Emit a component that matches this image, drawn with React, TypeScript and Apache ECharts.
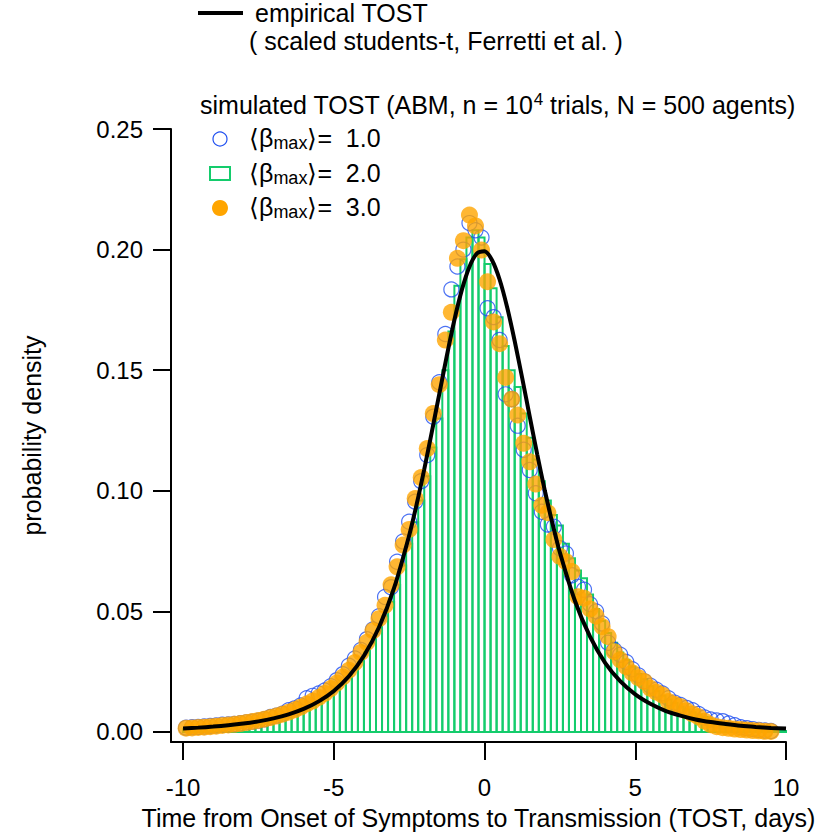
import React, { useEffect, useRef } from "react";
import * as echarts from "echarts";

// ---- data ----
// histogram bins: width 0.2 days, centres -9.9 ... 9.9
const BIN_WIDTH = 0.2;
const binCenters: number[] = Array.from({ length: 100 }, (_, i) => Math.round((-9.9 + 0.2 * i) * 10) / 10);

// <beta_max> = 1.0 (blue open circles)
const beta1: (number | null)[] = [
  0.0018, 0.0020, 0.0021, 0.0023, 0.0025, 0.0027, 0.0030, 0.0031, 0.0033, 0.0036,
  0.0040, 0.0043, 0.0047, 0.0053, 0.0062, 0.0068, 0.0076, 0.0090, 0.0098, 0.0110,
  0.0140, 0.0150, 0.0160, 0.0172, 0.0190, 0.0215, 0.0240, 0.0275, 0.0305, 0.0340,
  0.0385, 0.0425, 0.0480, 0.0560, 0.0600, 0.0706, 0.0790, 0.0872, 0.0955, 0.1040,
  0.1148, 0.1307, 0.1450, 0.1650, 0.1835, 0.1930, 0.2000, 0.2110, 0.2080, 0.2050,
  0.1757, 0.1720, 0.1625, 0.1400, 0.1380, 0.1270, 0.1170, 0.1086, 0.0990, 0.0913,
  0.0860, 0.0851, 0.0762, 0.0740, 0.0650, 0.0602, 0.0590, 0.0530, 0.0500, 0.0450,
  0.0370, 0.0340, 0.0320, 0.0290, 0.0260, 0.0235, 0.0210, 0.0192, 0.0175, 0.0160,
  0.0140, 0.0122, 0.0112, 0.0100, 0.0090, 0.0075, 0.0060, 0.0052, 0.0048, 0.0045,
  0.0035, 0.0028, 0.0020, 0.0016, 0.0012, 0.0009, 0.0006, 0.0004, null, null,
];

// <beta_max> = 2.0 (green histogram)
const beta2: number[] = [
  0.0011, 0.0012, 0.0013, 0.0015, 0.0016, 0.0018, 0.0020, 0.0022, 0.0024, 0.0027,
  0.0030, 0.0034, 0.0038, 0.0043, 0.0048, 0.0054, 0.0061, 0.0069, 0.0077, 0.0087,
  0.0098, 0.0110, 0.0124, 0.0140, 0.0157, 0.0178, 0.0200, 0.0225, 0.0260, 0.0290,
  0.0330, 0.0370, 0.0420, 0.0480, 0.0540, 0.0610, 0.0690, 0.0780, 0.0870, 0.0960,
  0.1060, 0.1180, 0.1300, 0.1500, 0.1660, 0.1850, 0.1960, 0.2050, 0.2080, 0.2050,
  0.1940, 0.1840, 0.1720, 0.1600, 0.1500, 0.1430, 0.1320, 0.1220, 0.1130, 0.1040,
  0.0960, 0.0900, 0.0856, 0.0780, 0.0720, 0.0670, 0.0637, 0.0570, 0.0510, 0.0460,
  0.0410, 0.0370, 0.0330, 0.0300, 0.0270, 0.0240, 0.0220, 0.0190, 0.0170, 0.0150,
  0.0135, 0.0120, 0.0105, 0.0093, 0.0082, 0.0072, 0.0062, 0.0052, 0.0042, 0.0034,
  0.0027, 0.0022, 0.0018, 0.0015, 0.0012, 0.0010, 0.0008, 0.0006, 0.0005, 0.0004,
];

// <beta_max> = 3.0 (orange filled circles)
const beta3: (number | null)[] = [
  0.0016, 0.0017, 0.0019, 0.0020, 0.0022, 0.0024, 0.0027, 0.0029, 0.0032, 0.0035,
  0.0039, 0.0043, 0.0048, 0.0053, 0.0060, 0.0066, 0.0074, 0.0082, 0.0092, 0.0103,
  0.0116, 0.0128, 0.0143, 0.0160, 0.0180, 0.0203, 0.0228, 0.0256, 0.0288, 0.0330,
  0.0372, 0.0420, 0.0470, 0.0525, 0.0610, 0.0685, 0.0775, 0.0840, 0.0968, 0.1055,
  0.1175, 0.1320, 0.1440, 0.1625, 0.1740, 0.1964, 0.2037, 0.2143, 0.2098, 0.1998,
  0.1867, 0.1700, 0.1610, 0.1470, 0.1380, 0.1314, 0.1197, 0.1120, 0.1028, 0.0940,
  0.0909, 0.0798, 0.0728, 0.0706, 0.0665, 0.0561, 0.0555, 0.0510, 0.0480, 0.0437,
  0.0395, 0.0333, 0.0299, 0.0271, 0.0245, 0.0225, 0.0209, 0.0181, 0.0165, 0.0153,
  0.0126, 0.0115, 0.0105, 0.0088, 0.0075, 0.0063, 0.0045, 0.0030, 0.0022, 0.0018,
  0.0015, 0.0012, 0.0010, 0.0008, 0.0006, 0.0005, 0.0003, 0.0002, null, null,
];

// empirical TOST (scaled Student-t, Ferretti et al.)
const curveX: number[] = [
  -10, -9.5, -9, -8.5, -8, -7.5, -7, -6.5, -6, -5.5, -5, -4.5, -4, -3.5, -3, -2.5, -2.25, -2,
  -1.75, -1.5, -1.25, -1, -0.75, -0.5, -0.25, 0, 0.25, 0.5, 0.75, 1, 1.25, 1.5, 1.75, 2, 2.25,
  2.5, 3, 3.5, 4, 4.5, 5, 5.5, 6, 6.5, 7, 7.5, 8, 8.5, 9, 9.5, 10,
];
const curveY: number[] = [
  0.00149, 0.00181, 0.00223, 0.00278, 0.00348, 0.00441, 0.00565, 0.00732, 0.00958, 0.0127,
  0.0170, 0.0231, 0.0316, 0.0434, 0.0597, 0.0815, 0.0945, 0.1089, 0.1243, 0.1402, 0.1560,
  0.1708, 0.1834, 0.1929, 0.1984, 0.1993, 0.1956, 0.1876, 0.1761, 0.1621, 0.1467, 0.1307,
  0.1150, 0.1001, 0.0866, 0.0744, 0.0543, 0.0395, 0.0287, 0.0211, 0.0156, 0.0117, 0.0088,
  0.0068, 0.0052, 0.0041, 0.0033, 0.0026, 0.0021, 0.0017, 0.0014,
];

const xTicks = [-10, -5, 0, 5, 10];
const yTicks = [0, 0.05, 0.1, 0.15, 0.2, 0.25];

const FONT = "'Liberation Sans', Arial, Helvetica, sans-serif";
const FS = 24;
const FT = 25;
const BLUE = "#1f4ff0";
const GREEN = "#14cc6c";
const ORANGE = "#ffa500";

export default function App() {
  const ref = useRef<HTMLDivElement>(null);
  useEffect(() => {
    if (!ref.current) return;
    const chart = echarts.init(ref.current, undefined, { renderer: "svg" });

    const histData = binCenters.map((c, i) => [c - BIN_WIDTH / 2, c + BIN_WIDTH / 2, beta2[i]]);
    const blueData = binCenters.map((c, i) => [c, beta1[i]]).filter((d) => d[1] !== null);
    const orangeData = binCenters.map((c, i) => [c, beta3[i]]).filter((d) => d[1] !== null);
    const curveData = curveX.map((x, i) => [x, curveY[i]]);

    const legendRich = {
      t: { fontSize: FT, fontFamily: FONT, color: "#000", lineHeight: 28, verticalAlign: "middle" },
      s: { fontSize: 18, fontFamily: FONT, color: "#000", lineHeight: 16, verticalAlign: "bottom" },
    };
    const legendRow = (v: string, y: number) => ({
      type: "text",
      left: 249,
      top: y - 14,
      style: {
        text: `{t|⟨β}{s|max}{t|⟩=  ${v}}`,
        rich: legendRich,
      },
    });

    chart.setOption({
      animation: false,
      backgroundColor: "#fff",
      grid: { left: 171, right: 41, top: 129, bottom: 96, containLabel: false },
      xAxis: {
        type: "value",
        min: -10.4,
        max: 10,
        name: "Time from Onset of Symptoms to Transmission (TOST, days)",
        nameLocation: "middle",
        nameGap: 63,
        nameTextStyle: { fontSize: FT, fontFamily: FONT, color: "#000" },
        axisLine: { show: true, onZero: false, lineStyle: { color: "#000", width: 2 } },
        axisTick: { show: true, length: 18, inside: false, customValues: xTicks, lineStyle: { color: "#000", width: 2 } },
        axisLabel: {
          customValues: xTicks,
          margin: 33,
          fontSize: FS,
          fontFamily: FONT,
          color: "#000",
          formatter: (v: number) => String(v),
        },
        splitLine: { show: false },
      },
      yAxis: {
        type: "value",
        min: -0.00415,
        max: 0.25,
        name: "probability density",
        nameLocation: "middle",
        nameGap: 127,
        nameRotate: 90,
        nameTextStyle: { fontSize: FT, fontFamily: FONT, color: "#000" },
        axisLine: { show: true, onZero: false, lineStyle: { color: "#000", width: 2 } },
        axisTick: { show: true, length: 18, inside: false, customValues: yTicks, lineStyle: { color: "#000", width: 2 } },
        axisLabel: {
          customValues: yTicks,
          margin: 28,
          fontSize: FS,
          fontFamily: FONT,
          color: "#000",
          formatter: (v: number) => v.toFixed(2),
        },
        splitLine: { show: false },
      },
      series: [
        {
          type: "custom",
          name: "beta2",
          data: histData,
          z: 1,
          clip: false,
          renderItem: (params: any, api: any) => {
            const p0 = api.coord([api.value(0), api.value(2)]);
            const p1 = api.coord([api.value(1), 0]);
            return {
              type: "rect",
              shape: { x: p0[0], y: p0[1], width: p1[0] - p0[0], height: p1[1] - p0[1] },
              style: { fill: "none", stroke: GREEN, lineWidth: 2 },
            };
          },
        },
        {
          type: "scatter",
          name: "beta1",
          data: blueData,
          z: 2,
          symbol: "circle",
          symbolSize: 15,
          itemStyle: { color: "rgba(0,0,0,0)", borderColor: BLUE, borderWidth: 1.2 },
        },
        {
          type: "scatter",
          name: "beta3",
          data: orangeData,
          z: 3,
          symbol: "circle",
          symbolSize: 17,
          itemStyle: { color: ORANGE },
        },
        {
          type: "line",
          name: "empirical",
          data: curveData,
          z: 4,
          smooth: 0.3,
          symbol: "none",
          lineStyle: { color: "#000", width: 4 },
        },
      ],
      graphic: [
        { type: "line", shape: { x1: 198, y1: 13, x2: 243, y2: 13 }, style: { stroke: "#000", lineWidth: 4 } },
        {
          type: "text",
          left: 255,
          top: 0,
          style: { text: "empirical TOST", fontSize: FT, fontFamily: FONT, fill: "#000" },
        },
        {
          type: "text",
          left: 249,
          top: 28,
          style: { text: "( scaled students-t, Ferretti et al. )", fontSize: FT, fontFamily: FONT, fill: "#000" },
        },
        {
          type: "text",
          left: 200,
          top: 91,
          style: {
            text: "{t|simulated TOST (ABM, n = 10}{u|4}{t| trials, N = 500 agents)}",
            rich: {
              t: { fontSize: FT, fontFamily: FONT, color: "#000", lineHeight: 28, verticalAlign: "middle" },
              u: { fontSize: 17, fontFamily: FONT, color: "#000", lineHeight: 16, verticalAlign: "top" },
            },
          },
        },
        { type: "circle", shape: { cx: 220, cy: 139, r: 7 }, style: { fill: "none", stroke: BLUE, lineWidth: 1.2 } },
        { type: "rect", shape: { x: 210, y: 167, width: 20, height: 13 }, style: { fill: "none", stroke: GREEN, lineWidth: 2 } },
        { type: "circle", shape: { cx: 220, cy: 208, r: 8 }, style: { fill: ORANGE } },
        legendRow("1.0", 139),
        legendRow("2.0", 174),
        legendRow("3.0", 208),
      ],
    });
    return () => chart.dispose();
  }, []);
  return (
    <div
      ref={ref}
      style={{ position: "fixed", left: 0, top: 0, width: 827, height: 838, background: "#fff" }}
    />
  );
}
